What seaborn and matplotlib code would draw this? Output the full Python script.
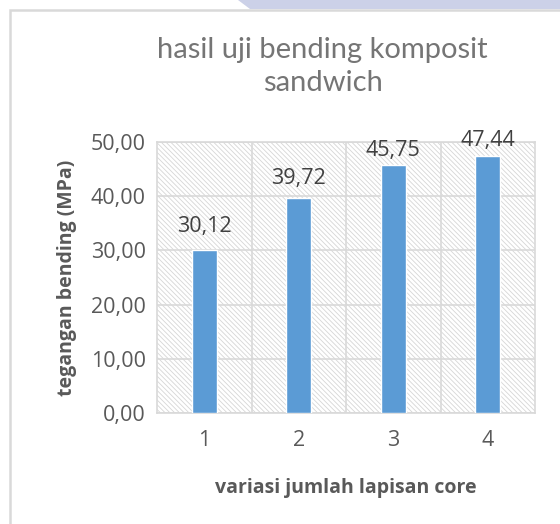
import numpy as np
import pandas as pd
import matplotlib
matplotlib.use("Agg")
import matplotlib.pyplot as plt
from matplotlib.patches import Rectangle, Polygon
import seaborn as sns

# chart data
categories = ["1", "2", "3", "4"]
values = [30.12, 39.72, 45.75, 47.44]
y_ticks = [0, 10, 20, 30, 40, 50]

title = "hasil uji bending komposit\nsandwich"
x_label = "variasi jumlah lapisan core"
y_label = "tegangan bending (MPa)"

df = pd.DataFrame({"lapisan": categories, "tegangan": values})

sns.set_style("white")
plt.rcParams["font.family"] = ["Open Sans", "DejaVu Sans"]
plt.rcParams["hatch.linewidth"] = 0.6

fig = plt.figure(figsize=(5.6, 5.24), dpi=100)
ax = fig.add_axes([0.2804, 0.2118, 0.675, 0.5174])

# hatched plot area background
ax.add_patch(Rectangle((0, 0), 1, 1, transform=ax.transAxes, fill=False,
                       hatch="\\" * 7, edgecolor="#d6d6d6", linewidth=0,
                       zorder=0))

sns.barplot(data=df, x="lapisan", y="tegangan", color="#5B9BD5",
            width=0.265, saturation=1, ax=ax, zorder=3)

ax.set_ylim(0, 50)
ax.set_xlim(-0.5, 3.5)
ax.set_yticks(y_ticks)
ax.set_yticklabels([f"{t:.2f}".replace(".", ",") for t in y_ticks])

# grid lines
for t in y_ticks:
    ax.axhline(t, color="#d9d9d9", lw=1.2, zorder=1)
for b in np.arange(0.5, len(categories) - 0.5, 1):
    ax.axvline(b, color="#d9d9d9", lw=1.2, zorder=1)

for s in ax.spines.values():
    s.set_color("#d9d9d9")
    s.set_linewidth(1.2)

ax.tick_params(axis="both", length=0, labelsize=15.5, labelcolor="#595959")
ax.tick_params(axis="x", pad=12)
ax.tick_params(axis="y", pad=8)

# labels near the top get squeezed towards the bar, like Excel does
pads = [9, 6, 3, 3.5]
for bar, v, p in zip(ax.containers[0], values, pads):
    ax.annotate(f"{v:.2f}".replace(".", ","),
                (bar.get_x() + bar.get_width() / 2, bar.get_height()),
                xytext=(0, p), textcoords="offset points",
                ha="center", va="bottom", fontsize=15.5, color="#404040",
                annotation_clip=False, zorder=4)

ax.set_xlabel(x_label, fontsize=14, fontweight="bold", color="#595959",
              labelpad=20)
ax.set_ylabel(y_label, fontsize=14, fontweight="bold", color="#595959",
              labelpad=10)

fig.text(0.576, 0.873, title, ha="center", va="center", fontsize=21,
         color="#757575", family=["Lato", "DejaVu Sans"], linespacing=1.35)

# chart frame
fig.patches.append(Rectangle((10 / 560, -0.01), 1.0, 1 - 10 / 524 + 0.01,
                             transform=fig.transFigure, fill=False,
                             edgecolor="#d9d9d9", linewidth=1.8))
# page decoration at top
fig.patches.append(Polygon([(238 / 560, 1.0), (250 / 560, 1 - 9 / 524),
                            (1.0, 1 - 9 / 524), (1.0, 1.0)],
                           closed=True, transform=fig.transFigure,
                           facecolor="#ccd1e8", edgecolor="none"))

fig.savefig("out.png", dpi=100)
